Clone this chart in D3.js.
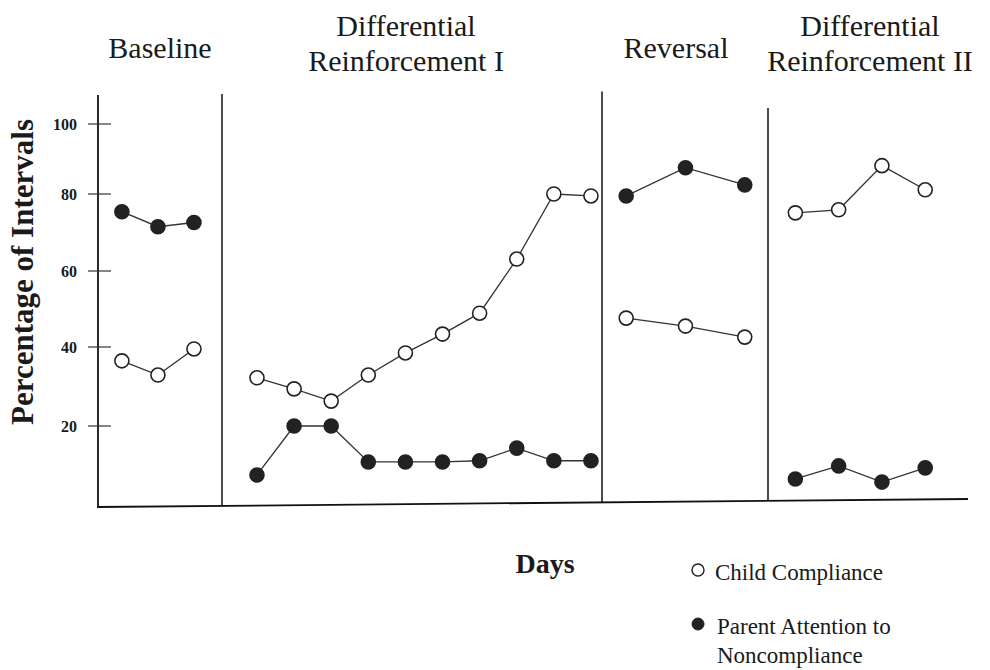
<!DOCTYPE html>
<html>
<head>
<meta charset="utf-8">
<script src="https://cdn.jsdelivr.net/npm/d3@7"></script>
<style>
  body { margin: 0; background: #fff; }
  text { font-family: "Liberation Serif", "Times New Roman", serif; fill: #1a1a1a; }
</style>
</head>
<body>
<div id="chart"></div>
<script>
// phase names (two lines where the original wraps)
var phaseTitles = [["Baseline"], ["Differential", "Reinforcement I"], ["Reversal"], ["Differential", "Reinforcement II"]];

// percentage of intervals, one array per phase
var childCompliance = [
  [36.5, 32.9, 39.5],
  [32.2, 29.4, 26.3, 32.9, 38.5, 43.4, 48.9, 63.1, 80, 79.5],
  [47.6, 45.5, 42.6],
  [75.1, 75.9, 88.1, 81.2]
];
var parentAttention = [
  [75.4, 71.5, 72.6],
  [7.6, 20, 20, 10.9, 10.9, 10.9, 11.2, 14.4, 11.2, 11.2],
  [79.5, 87.5, 82.6],
  [6.6, 9.9, 5.8, 9.4]
];

var yTicks = [20, 40, 60, 80, 100];

var width = 990, height = 670;

var svg = d3.select("#chart")
  .append("svg")
  .attr("width", width)
  .attr("height", height);

// hand drawn axis: tick spacing is not quite even, so a piecewise scale
var y = d3.scaleLinear()
  .domain([0, 20, 40, 60, 80, 100, 108])
  .range([505, 426, 347, 271, 194, 124, 95]);

// phase areas (left edge, right edge) and how the days sit in them
var phaseLayout = [
  { x0: 98, x1: 222, pad: 0.72, align: 0.46 },
  { x0: 222, x1: 602, pad: 0.62, align: 0.76 },
  { x0: 602, x1: 768, pad: 0.40, align: 0.51 },
  { x0: 768, x1: 968, pad: 0.81, align: 0.39 }
];

var xScales = phaseLayout.map(function (p, i) {
  return d3.scalePoint()
    .domain(d3.range(childCompliance[i].length))
    .range([p.x0, p.x1])
    .padding(p.pad)
    .align(p.align);
});

// axes
svg.append("line")
  .attr("x1", 98).attr("x2", 98)
  .attr("y1", y(108)).attr("y2", y(0) + 2)
  .attr("stroke", "#111").attr("stroke-width", 1.8);

svg.append("line")
  .attr("x1", 97).attr("x2", 968)
  .attr("y1", y(0) + 2).attr("y2", y(0) - 6)
  .attr("stroke", "#111").attr("stroke-width", 1.8);

// ticks + labels
var tick = svg.append("g").selectAll("g")
  .data(yTicks)
  .enter()
  .append("g");

tick.append("line")
  .attr("x1", 88).attr("x2", 111)
  .attr("y1", function (d) { return y(d); })
  .attr("y2", function (d) { return y(d); })
  .attr("stroke", "#333").attr("stroke-width", 1.2);

tick.append("text")
  .attr("x", 77)
  .attr("y", function (d) { return y(d); })
  .attr("dy", "0.35em")
  .attr("text-anchor", "end")
  .style("font-size", "16px")
  .style("font-weight", "bold")
  .text(function (d) { return d; });

// phase change lines
var phaseLineTop = [108.3, 109, 104.4];
svg.append("g").selectAll("line")
  .data(phaseLayout.slice(1))
  .enter()
  .append("line")
  .attr("x1", function (d) { return d.x0; })
  .attr("x2", function (d) { return d.x0; })
  .attr("y1", function (d, i) { return y(phaseLineTop[i]); })
  .attr("y2", function (d, i) { return y(0) - i * 2; })
  .attr("stroke", "#111").attr("stroke-width", 1.5);

// phase titles
var titleCenter = [160, 406, 676, 870];
phaseTitles.forEach(function (lines, i) {
  var t = svg.append("text")
    .attr("text-anchor", "middle")
    .style("font-size", "30px");
  lines.forEach(function (l, j) {
    var base = lines.length == 1 ? 58 : 36 + j * 35;
    t.append("tspan").attr("x", titleCenter[i]).attr("y", base).text(l);
  });
});

var line = d3.line()
  .x(function (d) { return d.x; })
  .y(function (d) { return y(d.v); });

function drawSeries(series, filled) {
  series.forEach(function (vals, i) {
    var pts = vals.map(function (v, j) { return { x: xScales[i](j), v: v }; });
    svg.append("path")
      .datum(pts)
      .attr("d", line)
      .attr("fill", "none")
      .attr("stroke", "#333")
      .attr("stroke-width", 1.3);
    svg.append("g").selectAll("circle")
      .data(pts)
      .enter()
      .append("circle")
      .attr("cx", function (d) { return d.x; })
      .attr("cy", function (d) { return y(d.v); })
      .attr("r", 7)
      .attr("fill", filled ? "#222" : "#fff")
      .attr("stroke", "#222")
      .attr("stroke-width", 1.6);
  });
}

drawSeries(childCompliance, false);
drawSeries(parentAttention, true);

// axis titles
svg.append("text")
  .attr("transform", "translate(33,272) rotate(-90)")
  .attr("text-anchor", "middle")
  .style("font-size", "31px")
  .style("font-weight", "bold")
  .text("Percentage of Intervals");

svg.append("text")
  .attr("x", 545).attr("y", 573)
  .attr("text-anchor", "middle")
  .style("font-size", "28px")
  .style("font-weight", "bold")
  .text("Days");

// legend
svg.append("circle")
  .attr("cx", 698).attr("cy", 570).attr("r", 6)
  .attr("fill", "#fff").attr("stroke", "#222").attr("stroke-width", 1.4);
svg.append("text")
  .attr("x", 715).attr("y", 580)
  .style("font-size", "23px")
  .text("Child Compliance");

svg.append("circle")
  .attr("cx", 698).attr("cy", 624).attr("r", 6)
  .attr("fill", "#222").attr("stroke", "#222");
var lt = svg.append("text").style("font-size", "23px");
lt.append("tspan").attr("x", 717).attr("y", 634).text("Parent Attention to");
lt.append("tspan").attr("x", 717).attr("y", 663).text("Noncompliance");
</script>
</body>
</html>
